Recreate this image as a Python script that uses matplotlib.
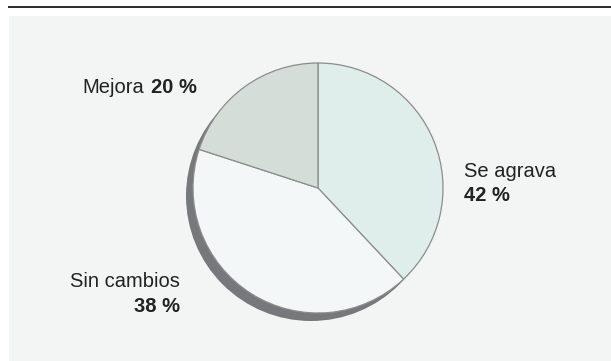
import matplotlib
matplotlib.use("Agg")
import matplotlib.pyplot as plt
from matplotlib.patches import Circle, Rectangle

# categories in drawing order (clockwise from 12 o'clock)
categories = ["Se agrava", "Sin cambios", "Mejora"]
# percentages printed in the labels
label_pcts = [42, 38, 20]
# slice sizes as drawn in the reference picture
slice_shares = [38, 42, 20]
slice_colors = ["#e0eeeb", "#f3f7f8", "#d5ddd9"]

W, H = 611, 361
plt.rcParams["font.family"] = ["Liberation Sans", "DejaVu Sans"]

fig = plt.figure(figsize=(W / 100, H / 100), dpi=100)
ax = fig.add_axes([0, 0, 1, 1])
ax.set_axis_off()


def py(y):
    # pixel row (from top) -> data y
    return H - y


# background panel and top rule
ax.add_patch(Rectangle((9, 0), W - 9, py(16), facecolor="#f2f5f4", edgecolor="none", zorder=0))
ax.plot([8, W], [py(7), py(7)], color="#2b2b2b", lw=1.4, solid_capstyle="butt", zorder=1)

cx, cy, r = 318, py(188), 125

# drop shadow
ax.add_patch(Circle((cx - 7, cy - 8), r, facecolor="#76797c", edgecolor="none", zorder=2))

wedges, _ = ax.pie(
    slice_shares,
    colors=slice_colors,
    startangle=90,
    counterclock=False,
    center=(cx, cy),
    radius=r,
    wedgeprops=dict(edgecolor="#8c8c8c", linewidth=0.9, zorder=3),
)
for w in wedges:
    w.set_zorder(3)

txt = dict(fontsize=14.5, color="#222222", va="baseline", zorder=5)

# Mejora
ax.text(82, py(93), categories[2], ha="left", **txt)
ax.text(151, py(93), f"{label_pcts[2]} %", ha="left", fontweight="bold", **txt)

# Se agrava
ax.text(464, py(177), categories[0], ha="left", **txt)
ax.text(464, py(201), f"{label_pcts[0]} %", ha="left", fontweight="bold", **txt)

# Sin cambios
ax.text(180, py(287), categories[1], ha="right", **txt)
ax.text(180, py(312), f"{label_pcts[1]} %", ha="right", fontweight="bold", **txt)

ax.set_xlim(0, W)
ax.set_ylim(0, H)
ax.set_aspect("auto")

fig.savefig("out.png", dpi=100)
